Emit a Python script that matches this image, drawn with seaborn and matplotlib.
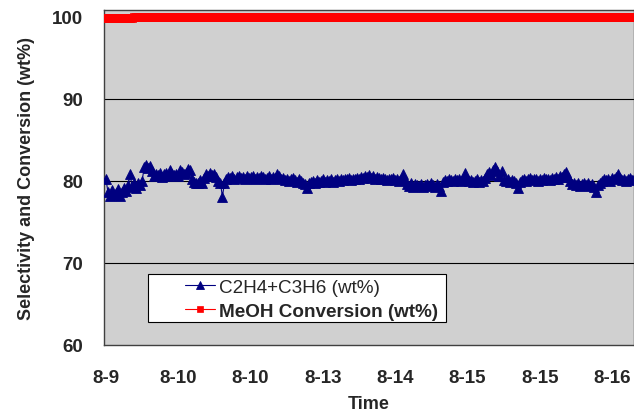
import matplotlib
matplotlib.use("Agg")
import matplotlib.pyplot as plt
from matplotlib.patches import Rectangle
import seaborn as sns
import pandas as pd
import numpy as np

# values (one point per sample)
selectivity = [
    80.2, 78.6, 78.2, 78.9, 78.3, 78.5, 79.0, 78.2, 78.7, 79.1,
    78.8, 79.5, 80.8, 79.3, 79.7, 79.2, 79.8, 79.5, 80.0, 81.7,
    81.9, 81.6, 81.8, 81.2, 80.6, 80.9, 80.7, 81.0, 80.5, 80.8,
    81.0, 80.6, 81.3, 80.9, 80.7, 80.9, 80.6, 81.4, 81.1, 80.8,
    81.0, 81.5, 81.3, 80.2, 79.9, 79.7, 79.8, 80.1, 79.8, 80.4,
    80.9, 80.6, 81.0, 80.7, 80.9, 80.5, 80.0, 79.7, 78.1, 79.8,
    80.3, 80.5, 80.4, 80.6, 80.3, 80.5, 80.6, 80.4, 80.5, 80.3,
    80.6, 80.4, 80.5, 80.6, 80.3, 80.5, 80.4, 80.6, 80.5, 80.3,
    80.4, 80.6, 80.3, 80.5, 80.4, 80.9, 80.6, 80.2, 80.4, 80.1,
    80.3, 80.0, 80.2, 80.4, 80.1, 79.9, 80.2, 80.0, 79.8, 79.6,
    79.1, 79.7, 79.9, 80.0, 79.8, 80.1, 79.9, 80.0, 80.2, 79.9,
    80.1, 80.0, 80.2, 79.9, 80.1, 80.3, 80.0, 80.2, 80.1, 80.3,
    80.2, 80.4, 80.1, 80.3, 80.2, 80.4, 80.3, 80.5, 80.4, 80.6,
    80.5, 80.7, 80.4, 80.6, 80.3, 80.5, 80.4, 80.2, 80.4, 80.3,
    80.1, 80.3, 80.2, 80.4, 80.1, 80.3, 80.0, 80.2, 80.9, 80.1,
    79.6, 79.4, 79.7, 79.3, 79.6, 79.5, 79.4, 79.6, 79.3, 79.5,
    79.6, 79.4, 79.7, 79.5, 79.3, 79.6, 79.4, 78.8, 79.9, 80.1,
    80.0, 80.2, 80.1, 80.0, 80.2, 80.1, 80.3, 80.0, 80.2, 81.0,
    80.3, 80.0, 80.1, 79.9, 80.0, 80.2, 79.9, 80.1, 80.0, 80.4,
    80.8, 81.1, 80.7, 81.3, 81.7, 81.2, 80.6, 81.2, 80.1, 80.0,
    80.2, 79.9, 80.1, 80.0, 79.7, 79.1, 79.9, 80.1, 80.3, 80.0,
    80.2, 80.4, 80.1, 80.3, 80.2, 80.0, 80.3, 80.1, 80.4, 80.2,
    80.3, 80.1, 80.4, 80.2, 80.5, 80.3, 80.6, 80.5, 80.8, 81.1,
    80.5, 80.0, 79.6, 79.8, 79.5, 79.7, 79.4, 79.6, 79.8, 79.5,
    79.7, 79.4, 79.6, 79.3, 78.7, 79.5, 79.8, 80.0, 80.2, 80.1,
    80.3, 80.0, 80.4, 80.2, 80.5, 80.8, 80.4, 80.1, 80.3, 80.0,
    80.2, 80.4, 80.1, 80.3,
]
conversion = [99.9] * 14 + [100.0] * (len(selectivity) - 14)
tick_labels = ["8-9", "8-10", "8-10", "8-13", "8-14", "8-15", "8-15", "8-16"]
y_ticks = [60, 70, 80, 90, 100]

df = pd.DataFrame({
    "sample": np.arange(len(selectivity)),
    "C2H4+C3H6 (wt%)": selectivity,
    "MeOH Conversion (wt%)": conversion,
})

sns.set_style("white")
plt.rcParams["font.family"] = ["Liberation Sans", "DejaVu Sans"]

fig = plt.figure(figsize=(6.34, 4.14), dpi=100)
ax = fig.add_axes([104 / 634, 68 / 414, 530 / 634, 335 / 414])
ax.set_facecolor("#d0d0d0")

sns.lineplot(data=df, x="sample", y="C2H4+C3H6 (wt%)", ax=ax, color="#000080",
             lw=0.8, marker="^", ms=6.5, markeredgecolor="#000080",
             markeredgewidth=0.6, label="C2H4+C3H6 (wt%)", zorder=3)
sns.lineplot(data=df, x="sample", y="MeOH Conversion (wt%)", ax=ax, color="red",
             lw=0.8, marker="s", ms=5.5, markeredgecolor="red",
             markeredgewidth=0.5, label="MeOH Conversion (wt%)", zorder=4)

ax.set_xlim(-1, 263)
ax.set_ylim(60, 100.85)
ax.set_yticks(y_ticks)
ax.set_yticklabels([str(v) for v in y_ticks], fontsize=13.5, fontweight="bold")
ax.set_xticks(np.arange(len(tick_labels)) * 36)
ax.set_xticklabels(tick_labels, fontsize=13.5, fontweight="bold")
ax.tick_params(axis="both", length=0)
ax.tick_params(axis="y", pad=15)
ax.tick_params(axis="x", pad=17)
for v in [70, 80, 90]:
    ax.axhline(v, color="black", lw=0.8, zorder=1)

for s in ax.spines.values():
    s.set_color("#404040")
    s.set_linewidth(1.0)

ax.set_xlabel("Time", fontsize=13, fontweight="bold", labelpad=7)
ax.set_ylabel("Selectivity and Conversion (wt%)", fontsize=13, fontweight="bold", labelpad=12)

# legend box
ax.add_patch(Rectangle((0.083, 0.069), 0.562, 0.143, transform=ax.transAxes,
                       facecolor="white", edgecolor="black", lw=0.8, zorder=5))
leg = ax.legend(loc="center left", bbox_to_anchor=(0.153, 0.137), frameon=False,
                fontsize=13.6, borderpad=0, borderaxespad=0, handlelength=1.6,
                handletextpad=0.2, labelspacing=0.35, markerscale=0.8)
leg.set_zorder(6)
leg.get_texts()[1].set_fontweight("bold")

fig.savefig("out.png", dpi=100)
